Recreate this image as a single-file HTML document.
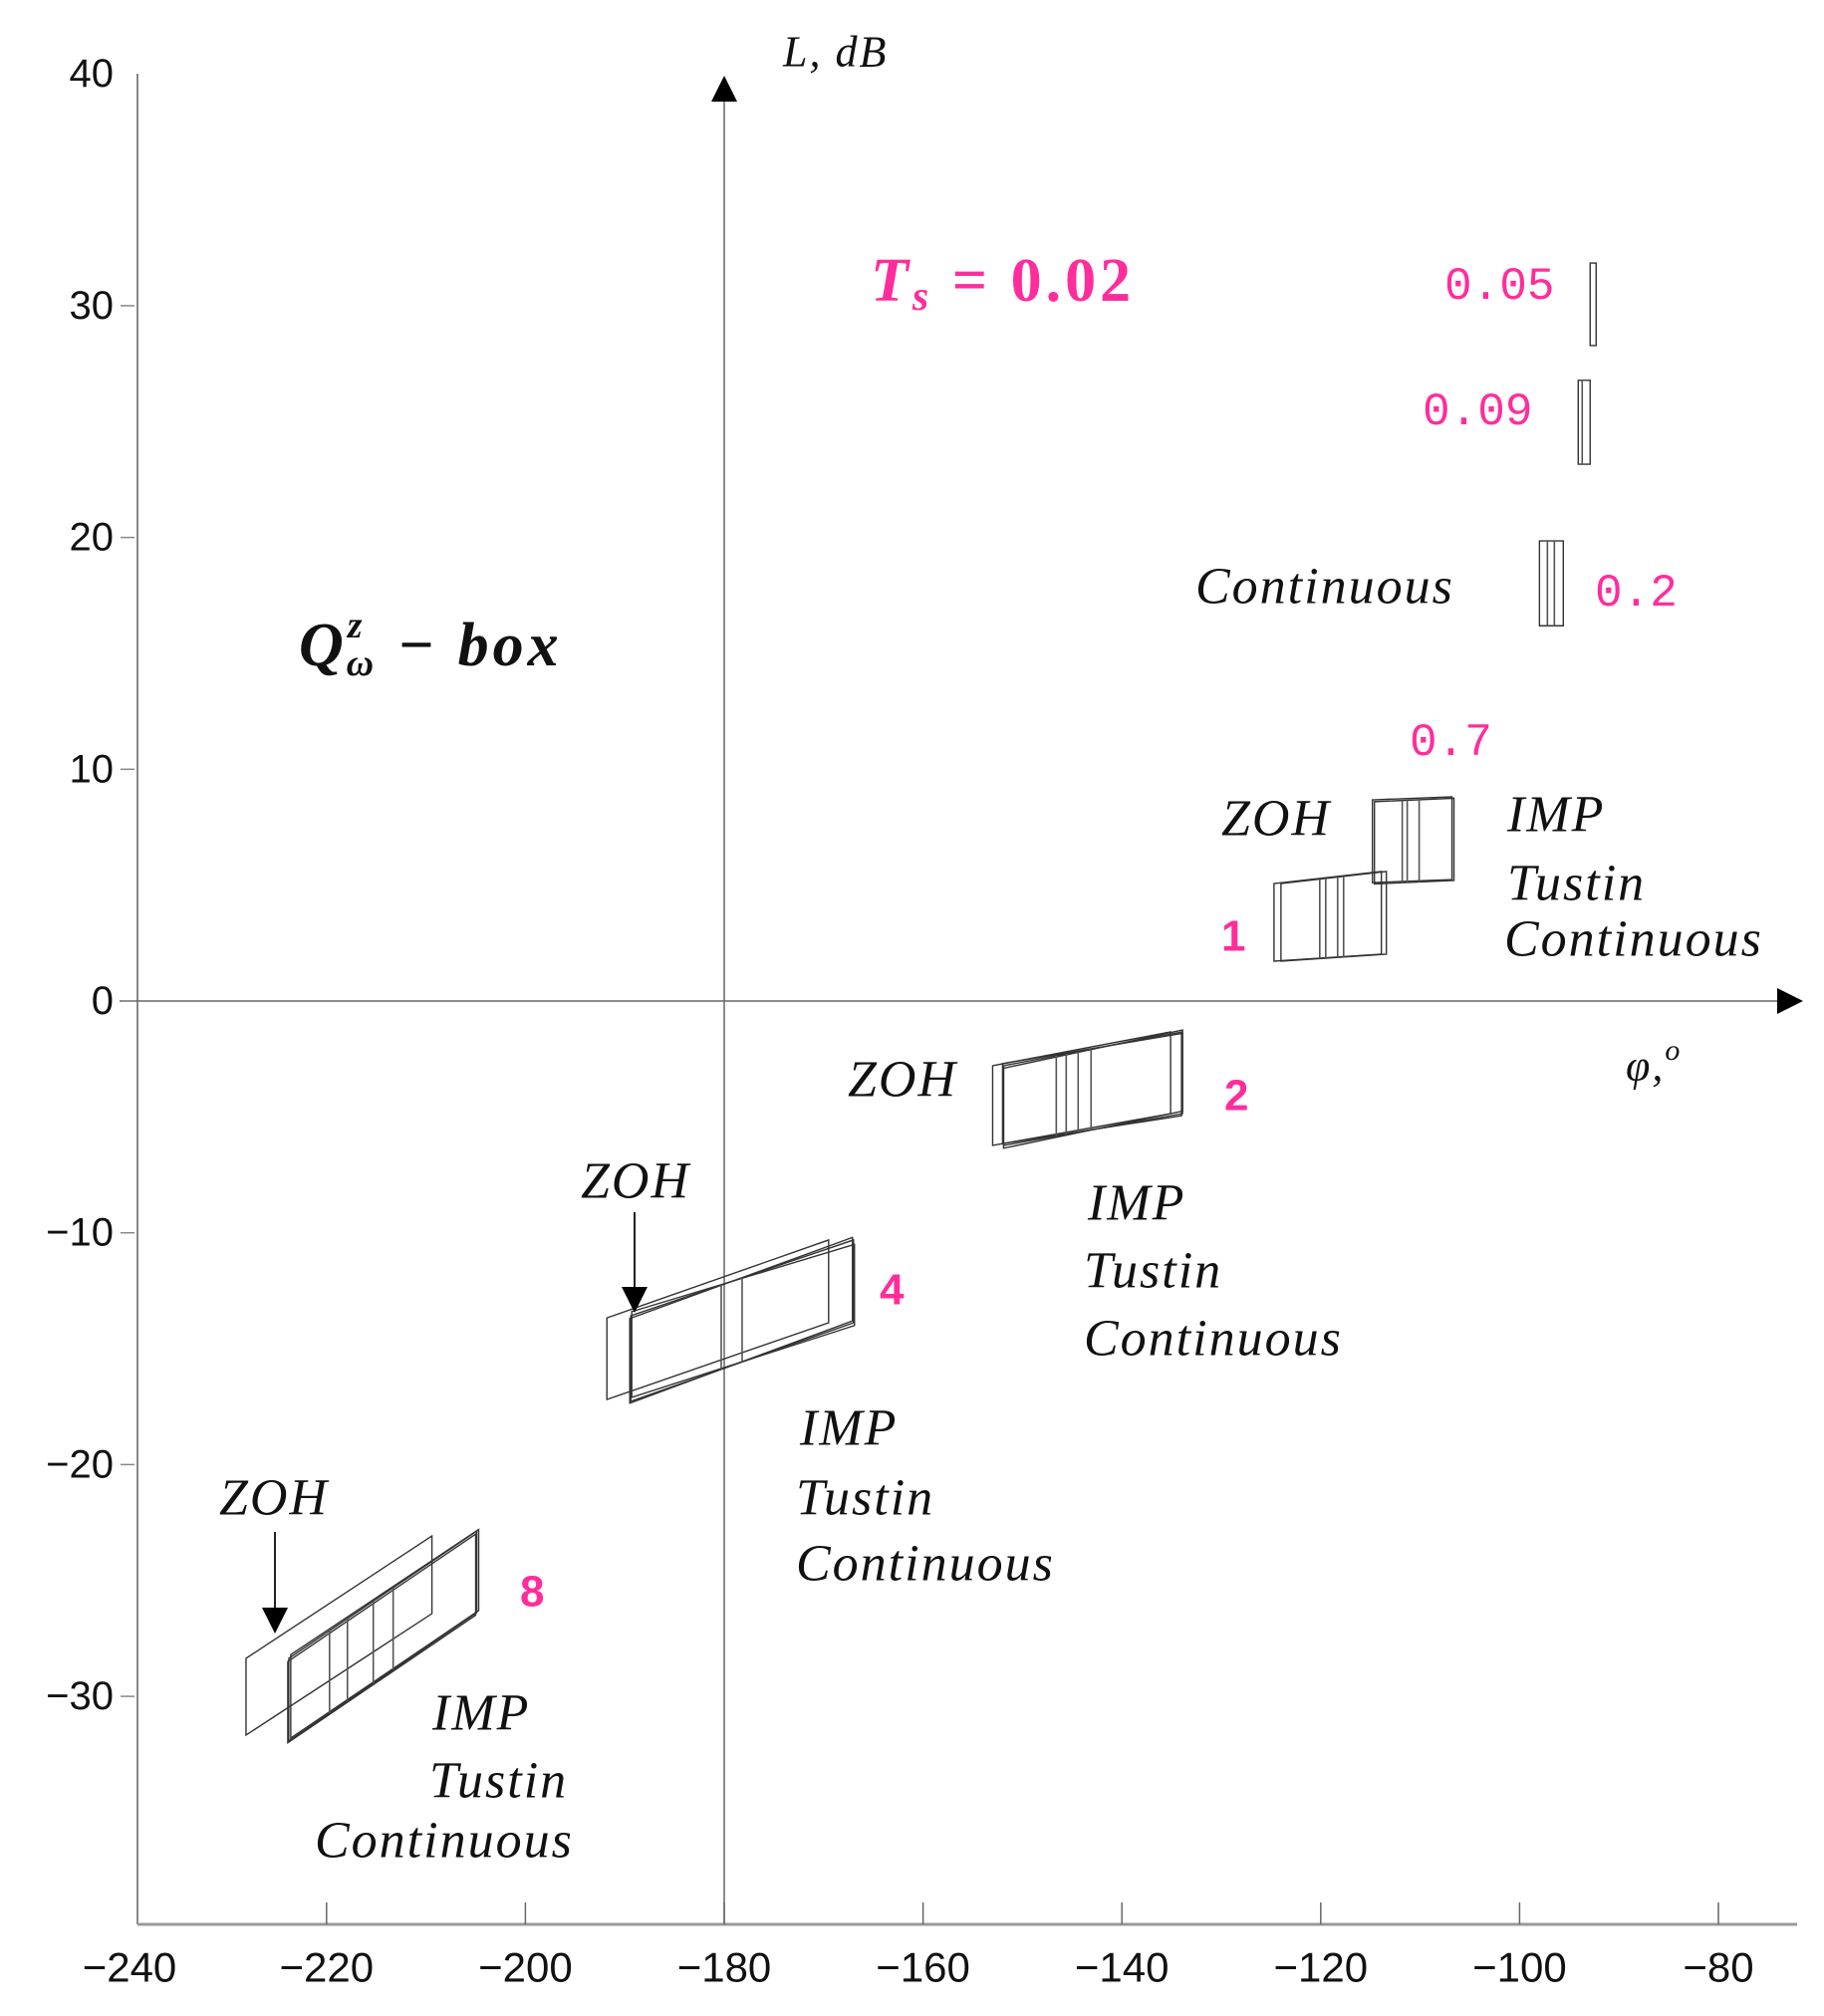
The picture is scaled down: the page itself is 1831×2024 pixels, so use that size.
<!DOCTYPE html>
<html><head><meta charset="utf-8"><style>
html,body{margin:0;padding:0;background:#fff}
svg{display:block}
.tk{font-family:"Liberation Sans",sans-serif;fill:#111}
.it{font-family:"Liberation Serif",serif;font-style:italic;fill:#111;letter-spacing:2px}
.pk{font-family:"Liberation Mono",monospace;fill:#ff2d9b}
.pb{font-family:"Liberation Sans",sans-serif;font-weight:bold;fill:#ff2d9b}
</style></head><body>
<svg id="chart" width="1831" height="2024" viewBox="0 0 1831 2024" xmlns="http://www.w3.org/2000/svg">
<g id="axes"></g>
<g id="marks"></g>
<g id="labels">
<text class="it" x="786" y="52" font-size="44" dominant-baseline="central">L, dB</text>
<text class="it" x="1632" y="1070" font-size="44" dominant-baseline="central">φ,<tspan font-size="30" dy="-16">o</tspan></text>
<text x="874" y="282" font-size="62" letter-spacing="4" font-family="Liberation Serif,serif" font-weight="bold" fill="#ff2d9b" dominant-baseline="central"><tspan font-style="italic">T</tspan><tspan font-style="italic" font-size="42" dy="16">s</tspan><tspan dy="-16"> = 0.02</tspan></text>
<text x="300" y="648" font-size="62" letter-spacing="4" font-family="Liberation Serif,serif" font-weight="bold" font-style="italic" fill="#111" dominant-baseline="central">Q<tspan font-size="38" dy="-20">z</tspan><tspan font-size="38" dx="-20" dy="38">ω</tspan><tspan dy="-18"> − box</tspan></text>
<text class="pk" x="1450" y="288" font-size="46" dominant-baseline="central">0.05</text>
<text class="pk" x="1428" y="414" font-size="46" dominant-baseline="central">0.09</text>
<text class="pk" x="1601" y="596" font-size="46" dominant-baseline="central">0.2</text>
<text class="pk" x="1415" y="746" font-size="46" dominant-baseline="central">0.7</text>
<text class="pb" x="1226" y="940" font-size="44" dominant-baseline="central">1</text>
<text class="pb" x="1229" y="1100" font-size="44" dominant-baseline="central">2</text>
<text class="pb" x="883" y="1295" font-size="44" dominant-baseline="central">4</text>
<text class="pb" x="522" y="1598" font-size="44" dominant-baseline="central">8</text>
<text class="it" x="1200" y="589" font-size="52" font-style="normal" dominant-baseline="central">Continuous</text>
<text class="it" x="1226" y="822" font-size="52" dominant-baseline="central">ZOH</text>
<text class="it" x="1513" y="818" font-size="52" dominant-baseline="central">IMP</text>
<text class="it" x="1513" y="887" font-size="52" dominant-baseline="central">Tustin</text>
<text class="it" x="1510" y="943" font-size="52" font-style="normal" dominant-baseline="central">Continuous</text>
<text class="it" x="851" y="1084" font-size="52" dominant-baseline="central">ZOH</text>
<text class="it" x="1092" y="1208" font-size="52" dominant-baseline="central">IMP</text>
<text class="it" x="1088" y="1276" font-size="52" dominant-baseline="central">Tustin</text>
<text class="it" x="1088" y="1344" font-size="52" font-style="normal" dominant-baseline="central">Continuous</text>
<text class="it" x="583" y="1186" font-size="52" dominant-baseline="central">ZOH</text>
<text class="it" x="803" y="1434" font-size="52" dominant-baseline="central">IMP</text>
<text class="it" x="799" y="1504" font-size="52" dominant-baseline="central">Tustin</text>
<text class="it" x="799" y="1570" font-size="52" font-style="normal" dominant-baseline="central">Continuous</text>
<text class="it" x="220" y="1504" font-size="52" dominant-baseline="central">ZOH</text>
<text class="it" x="434" y="1720" font-size="52" dominant-baseline="central">IMP</text>
<text class="it" x="431" y="1788" font-size="52" dominant-baseline="central">Tustin</text>
<text class="it" x="316" y="1848" font-size="52" font-style="normal" dominant-baseline="central">Continuous</text>
<line x1="637" y1="1217" x2="637" y2="1295" stroke="#222" stroke-width="2"/>
<polygon points="624,1292 650,1292 637,1318" fill="#000"/>
<line x1="276" y1="1538" x2="276" y2="1616" stroke="#222" stroke-width="2"/>
<polygon points="263,1614 289,1614 276,1640" fill="#000"/>
</g>
</svg>
<script>
const xTicks = [-240,-220,-200,-180,-160,-140,-120,-100,-80];
const yTicks = [40,30,20,10,0,-10,-20,-30];
// boxes: [phiLeft, phiRight, LtopLeft, LbotLeft, LtopRight, LbotRight]
const boxes8 = [[-228.1,-209.4,-28.36,-31.67,-23.08,-26.43],[-223.8,-204.9,-28.36,-31.93,-22.87,-26.39],[-223.6,-204.7,-28.2,-31.8,-22.8,-26.3],[-223.9,-205.0,-28.5,-32.0,-23.0,-26.5]];
const inner8 = [-219.7,-217.9,-215.3,-213.3];
const boxes4 = [[-191.8,-169.5,-13.67,-17.19,-10.31,-13.88],[-189.4,-167.0,-13.58,-17.27,-10.31,-13.88],[-189.3,-166.9,-13.4,-17.1,-10.5,-14.0],[-189.5,-167.1,-13.7,-17.35,-10.2,-13.8]];
const inner4 = [-180.3,-178.2];
const boxes2 = [[-153.0,-135.1,-2.79,-6.23,-1.33,-4.86],[-151.9,-133.9,-2.79,-6.23,-1.33,-4.86],[-151.9,-133.9,-2.9,-6.35,-1.25,-4.75],[-152.0,-134.0,-2.7,-6.15,-1.4,-4.95]];
const inner2 = [-146.6,-145.6,-144.4,-143.1];
const boxes1 = [[-124.7,-113.9,5.07,1.72,5.59,2.02],[-124.0,-113.4,5.07,1.72,5.59,2.02]];
const inner1 = [-120.1,-119.5,-118.3,-117.7];
const boxes07 = [[-114.8,-106.8,8.68,5.11,8.81,5.24],[-114.6,-106.6,8.6,5.05,8.75,5.2]];
const inner07 = [-111.8,-111.3,-110.1];
const boxes02 = [[-98.0,-95.6,19.85,16.19,19.85,16.19]];
const inner02 = [-97.2,-96.5];
const boxes009 = [[-94.1,-92.9,26.78,23.16,26.78,23.16]];
const inner009 = [-93.7];
const boxes005 = [[-92.9,-92.3,31.84,28.28,31.84,28.28]];
const inner005 = [];

const NS="http://www.w3.org/2000/svg";
function X(v){return 727+(v+180)*9.98;}
function Y(v){return 1005-v*23.27;}
function mk(tag,attrs,parent){const e=document.createElementNS(NS,tag);for(const k in attrs)e.setAttribute(k,attrs[k]);parent.appendChild(e);return e;}
const ax=document.getElementById('axes');
const mg=document.getElementById('marks');
let e;
e=mk('line',{x1:138,y1:74,x2:138,y2:1932,stroke:'#888','stroke-width':2},ax);


e=mk('line',{x1:138,y1:1932,x2:1804,y2:1932,stroke:'#999','stroke-width':3},ax);


e=mk('line',{x1:X(-180),y1:95,x2:X(-180),y2:1932,stroke:'#666','stroke-width':1.5},ax);


e=mk('polygon',{points:`${X(-180)-13},102 ${X(-180)+13},102 ${X(-180)},76`,fill:'#000'},ax);


e=mk('line',{x1:120,y1:Y(0),x2:1790,y2:Y(0),stroke:'#666','stroke-width':1.5},ax);


e=mk('polygon',{points:`1784,${Y(0)-13} 1784,${Y(0)+13} 1810,${Y(0)}`,fill:'#000'},ax);


xTicks.forEach(v=>{
  if(v>-240){const t=mk('line',{x1:X(v),y1:1910,x2:X(v),y2:1932,stroke:'#666','stroke-width':1.5},ax);
  
  }
  const l=mk('text',{x:(v===-240?130:X(v)),y:1975,'text-anchor':'middle','dominant-baseline':'central','font-size':42,class:'tk'},ax);
  l.textContent=String(v).replace('-','\u2212');
  
  
});
yTicks.forEach(v=>{
  if(v<40){const t=mk('line',{x1:121,y1:Y(v),x2:135,y2:Y(v),stroke:'#888','stroke-width':1.5},ax);
  
  }
  const l=mk('text',{x:114,y:(v===40?74:Y(v)),'text-anchor':'end','dominant-baseline':'central','font-size':40,class:'tk'},ax);
  l.textContent=String(v).replace('-','\u2212');
  
  
});
function drawGroup(name,bx,inner){
  const g=mk('g',{},mg);
  
  
  bx.forEach(b=>{
    const p=mk('polygon',{points:`${X(b[0])},${Y(b[2])} ${X(b[1])},${Y(b[4])} ${X(b[1])},${Y(b[5])} ${X(b[0])},${Y(b[3])}`,fill:'none',stroke:'#333','stroke-width':1.4},g);
    
    
  });
  const b=bx[bx.length>1?1:0];
  inner.forEach(v=>{
    const f=(v-b[0])/(b[1]-b[0]);
    const t=b[2]+(b[4]-b[2])*f, bo=b[3]+(b[5]-b[3])*f;
    const l=mk('line',{x1:X(v),y1:Y(t),x2:X(v),y2:Y(bo),stroke:'#555','stroke-width':1.6},g);
    
    
  });
}
drawGroup('8',boxes8,inner8);
drawGroup('4',boxes4,inner4);
drawGroup('2',boxes2,inner2);
drawGroup('1',boxes1,inner1);
drawGroup('0-7',boxes07,inner07);
drawGroup('0-2',boxes02,inner02);
drawGroup('0-09',boxes009,inner009);
drawGroup('0-05',boxes005,inner005);
</script>
</body></html>
